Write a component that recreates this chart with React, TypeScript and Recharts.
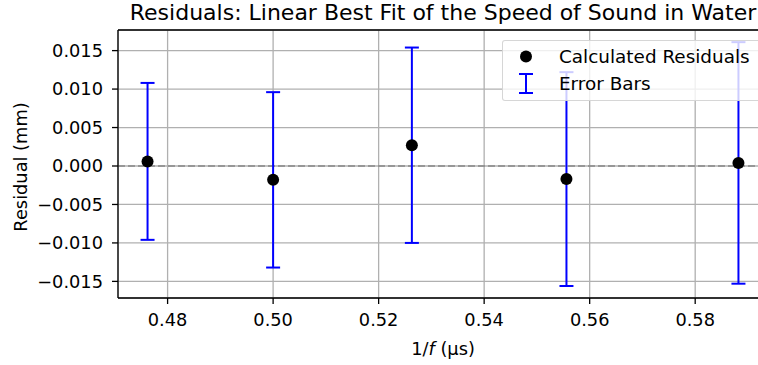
import React from "react";
import {
  CartesianGrid,
  ErrorBar,
  Legend,
  ReferenceLine,
  Scatter,
  ScatterChart,
  XAxis,
  YAxis,
} from "recharts";

// 1/f values (µs) and the residuals of the linear fit
const invFreq = [0.4762, 0.5, 0.5263, 0.5556, 0.5882];
const residuals = [0.0006, -0.0018, 0.0027, -0.0017, 0.0004];
const errors = [0.0102, 0.0114, 0.0127, 0.0139, 0.0157];

const xTicks = [0.48, 0.5, 0.52, 0.54, 0.56, 0.58];
const yTicks = [-0.015, -0.01, -0.005, 0, 0.005, 0.01, 0.015];

const X_DOMAIN: [number, number] = [0.4706, 0.5938];
const Y_DOMAIN: [number, number] = [-0.01716, 0.01768];

const FONT = "'DejaVu Sans', sans-serif";
const FS = 17.8;

const data = invFreq.map((x, i) => ({ x, y: residuals[i], err: errors[i] }));

const fmtY = (v: number) => (v < 0 ? "\u2212" : "") + Math.abs(v).toFixed(3);

function Dot(props: any) {
  const { cx, cy } = props;
  return <circle cx={cx} cy={cy} r={6} fill="#000" />;
}

function LegendBox() {
  return (
    <div
      style={{
        width: 257,
        height: 57,
        border: "1px solid rgba(204,204,204,0.8)",
        borderRadius: 3,
        background: "rgba(255,255,255,0.8)",
        paddingTop: 2,
        fontFamily: FONT,
        fontSize: 18.4,
        color: "#000",
        boxSizing: "content-box",
        whiteSpace: "nowrap",
      }}
    >
      <div style={{ display: "flex", alignItems: "center", height: 27 }}>
        <svg width={46} height={27}>
          <circle cx={23} cy={13.5} r={6} fill="#000" />
        </svg>
        <span style={{ marginLeft: 10 }}>Calculated Residuals</span>
      </div>
      <div style={{ display: "flex", alignItems: "center", height: 27 }}>
        <svg width={46} height={27}>
          <g stroke="#0000ff" strokeWidth={2}>
            <line x1={23} y1={4} x2={23} y2={23} />
            <line x1={16} y1={4} x2={30} y2={4} />
            <line x1={16} y1={23} x2={30} y2={23} />
          </g>
        </svg>
        <span style={{ marginLeft: 10 }}>Error Bars</span>
      </div>
    </div>
  );
}

function YLabel() {
  return (
    <text
      x={20}
      y={167}
      transform="rotate(-90 20 167)"
      textAnchor="middle"
      dominantBaseline="central"
      fontFamily={FONT}
      fontSize={FS}
      fill="#000"
    >
      Residual (mm)
    </text>
  );
}

function XLabel(props: any) {
  const vb = props.viewBox || {};
  return (
    <text
      x={vb.x + vb.width / 2}
      y={355}
      textAnchor="middle"
      fontFamily={FONT}
      fontSize={FS}
      fill="#000"
    >
      1/<tspan fontStyle="italic">f</tspan> (µs)
    </text>
  );
}

export default function App() {
  return (
    <div
      style={{
        position: "absolute",
        left: 0,
        top: 0,
        width: 758,
        height: 365,
        overflow: "hidden",
        background: "#fff",
      }}
    >
      <div
        style={{
          position: "absolute",
          left: 0,
          top: 0,
          width: 886,
          textAlign: "center",
          fontFamily: FONT,
          fontSize: 22,
          lineHeight: "26px",
          color: "#000",
          whiteSpace: "nowrap",
        }}
      >
        Residuals: Linear Best Fit of the Speed of Sound in Water
      </div>
      <ScatterChart
        width={780}
        height={365}
        margin={{ top: 30, right: 12, bottom: 37, left: 0 }}
      >
        <CartesianGrid stroke="#b0b0b0" strokeWidth={1.3} />
        <XAxis
          type="number"
          dataKey="x"
          domain={X_DOMAIN}
          ticks={xTicks}
          allowDataOverflow
          tickFormatter={(v: number) => v.toFixed(2)}
          height={30}
          tickSize={6}
          tickMargin={9}
          stroke="#000"
          strokeWidth={1.3}
          tick={{ fill: "#000", fontFamily: FONT, fontSize: FS }}
          label={<XLabel />}
        />
        <YAxis
          type="number"
          dataKey="y"
          domain={Y_DOMAIN}
          ticks={yTicks}
          allowDataOverflow
          tickFormatter={fmtY}
          width={118}
          tickSize={6}
          tickMargin={9}
          stroke="#000"
          strokeWidth={1.3}
          tick={{ fill: "#000", fontFamily: FONT, fontSize: FS }}
          label={<YLabel />}
        />
        <ReferenceLine y={0} stroke="#888" strokeWidth={1.4} strokeDasharray="7 3" />
        <ReferenceLine y={Y_DOMAIN[1]} stroke="#000" strokeWidth={1.3} />
        <Scatter
          name="Calculated Residuals"
          data={data}
          fill="#000"
          shape={<Dot />}
          isAnimationActive={false}
        >
          <ErrorBar
            dataKey="err"
            direction="y"
            width={7}
            stroke="#0000ff"
            strokeWidth={2}
            isAnimationActive={false}
          />
        </Scatter>
        <Legend
          layout="horizontal"
          verticalAlign="middle"
          align="center"
          wrapperStyle={{ position: "absolute", top: 40, left: 502, width: "auto", height: "auto" }}
          content={() => <LegendBox />}
        />
      </ScatterChart>
    </div>
  );
}
